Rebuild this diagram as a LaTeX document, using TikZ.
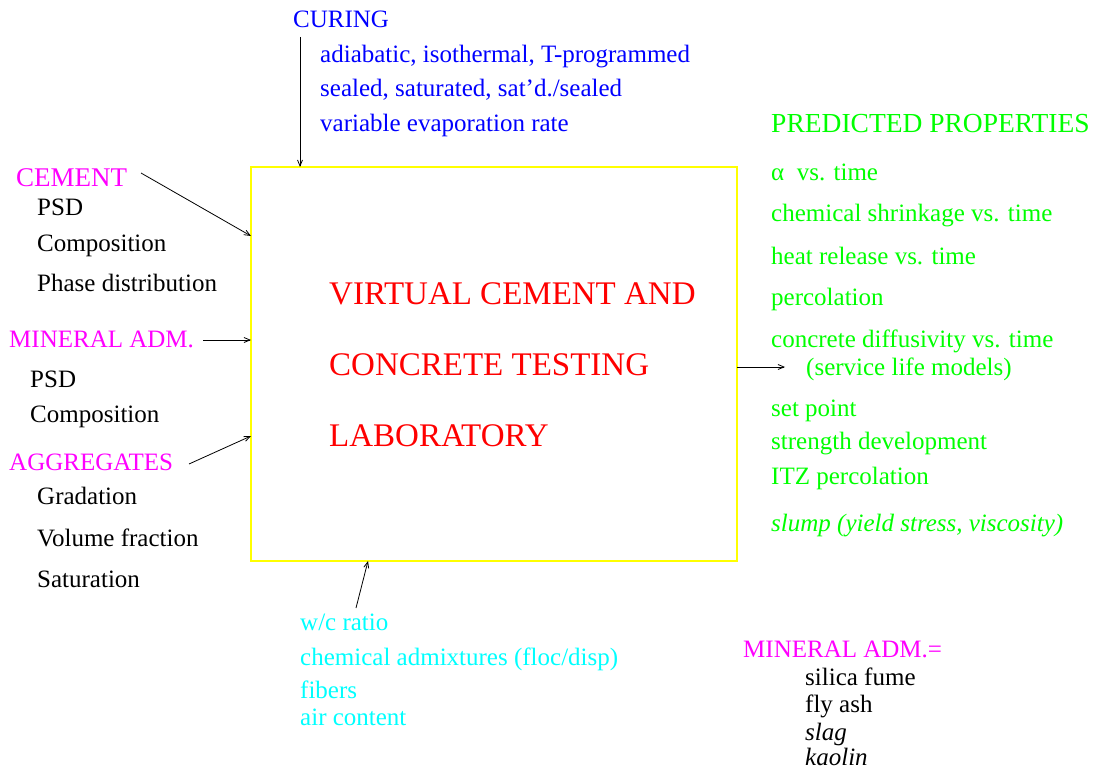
\documentclass[tikz,border=0pt]{standalone}
\usepackage{fontspec}
\setmainfont{Liberation Serif}
\usetikzlibrary{arrows.meta}
\definecolor{vmag}{RGB}{255,0,255}
\definecolor{vblauw}{RGB}{0,0,255}
\definecolor{vgroen}{RGB}{0,255,0}
\definecolor{vcyaan}{RGB}{0,255,255}
\definecolor{vrood}{RGB}{255,0,0}
\definecolor{vgeel}{RGB}{255,255,0}
\begin{document}
\begin{tikzpicture}[x=1pt,y=-1pt,
    txt/.style={anchor=base west,inner sep=0pt,font=\rmfamily\fontsize{25}{28}\selectfont},
    head/.style={txt},
    big/.style={txt,text=vrood,font=\rmfamily\fontsize{33}{36}\selectfont},
    pijl/.style={-{Straight Barb[length=6pt,width=5pt]},line width=0.8pt}]
\useasboundingbox (0,0) rectangle (1097,770);
% Laboratorium
\draw[vgeel,line width=1.2pt] (251,167) rectangle (737,561);
\node[big] (lab1) at (329,304) {VIRTUAL CEMENT AND};
\node[big] (lab2) at (329,375) {CONCRETE TESTING};
\node[big] (lab3) at (329,446) {LABORATORY};

% Uitharding
\node[head,text=vblauw] (curing) at (293,28) {CURING};
\node[txt,text=vblauw] (cur1) at (320,63) {adiabatic, isothermal, T-programmed};
\node[txt,text=vblauw] (cur2) at (320,97) {sealed, saturated, sat'd./sealed};
\node[txt,text=vblauw] (cur3) at (320,132) {variable evaporation rate};
\coordinate (c0) at (300,37);
\coordinate (c1) at (300,167);
\draw[pijl] (c0) -- (c1);

% Cement
\node[head,text=vmag,font=\rmfamily\fontsize{27}{30}\selectfont] (cement) at (16,187) {CEMENT};
\node[txt] (cem1) at (37,215) {PSD};
\node[txt] (cem2) at (37,251) {Composition};
\node[txt] (cem3) at (37,291) {Phase distribution};
\coordinate (c2) at (141,173);
\coordinate (c3) at (251,236);
\draw[pijl] (c2) -- (c3);

% Minerale toevoegingen
\node[head,text=vmag] (mineral) at (9,347) {MINERAL ADM.};
\node[txt] (min1) at (30,387) {PSD};
\node[txt] (min2) at (30,422) {Composition};
\coordinate (c4) at (203,340);
\coordinate (c5) at (251,340);
\draw[pijl] (c4) -- (c5);

% Toeslag
\node[head,text=vmag] (aggr) at (9,470) {AGGREGATES};
\node[txt] (agg1) at (37,504) {Gradation};
\node[txt] (agg2) at (37,546) {Volume fraction};
\node[txt] (agg3) at (37,587) {Saturation};
\coordinate (c6) at (189,464);
\coordinate (c7) at (251,436);
\draw[pijl] (c6) -- (c7);

% Mengsel
\node[txt,text=vcyaan] (mix1) at (300,630) {w/c ratio};
\node[txt,text=vcyaan] (mix2) at (300,665) {chemical admixtures (floc/disp)};
\node[txt,text=vcyaan] (mix3) at (300,698) {fibers};
\node[txt,text=vcyaan] (mix4) at (300,725) {air content};
\coordinate (c8) at (356,608);
\coordinate (c9) at (368,561);
\draw[pijl] (c8) -- (c9);

% Voorspelde eigenschappen
\node[head,text=vgroen,font=\rmfamily\fontsize{27.5}{30}\selectfont] (pred) at (771,133) {PREDICTED PROPERTIES};
\node[txt,text=vgroen] (pr1) at (771,181) {α\ \ vs. time};
\node[txt,text=vgroen] (pr2) at (771,222) {chemical shrinkage vs. time};
\node[txt,text=vgroen] (pr3) at (771,264) {heat release vs. time};
\node[txt,text=vgroen] (pr4) at (771,305) {percolation};
\node[txt,text=vgroen] (pr5) at (771,347) {concrete diffusivity vs. time};
\node[txt,text=vgroen] (pr6) at (806,375) {(service life models)};
\node[txt,text=vgroen] (pr7) at (771,416) {set point};
\node[txt,text=vgroen] (pr8) at (771,449) {strength development};
\node[txt,text=vgroen] (pr9) at (771,484) {ITZ percolation};
\node[txt,text=vgroen,font=\rmfamily\itshape\fontsize{25}{28}\selectfont] (pr10) at (771,531) {slump (yield stress, viscosity)};
\coordinate (c10) at (737,367);
\coordinate (c11) at (785,367);
\draw[pijl] (c10) -- (c11);

% Soorten
\node[txt,text=vmag] (soort) at (743,657) {MINERAL ADM.=};
\node[txt] (s1) at (805,685) {silica fume};
\node[txt] (s2) at (805,712) {fly ash};
\node[txt,font=\rmfamily\itshape\fontsize{25}{28}\selectfont] (s3) at (805,740) {slag};
\node[txt,font=\rmfamily\itshape\fontsize{25}{28}\selectfont] (s4) at (805,765) {kaolin};
\end{tikzpicture}
\end{document}
